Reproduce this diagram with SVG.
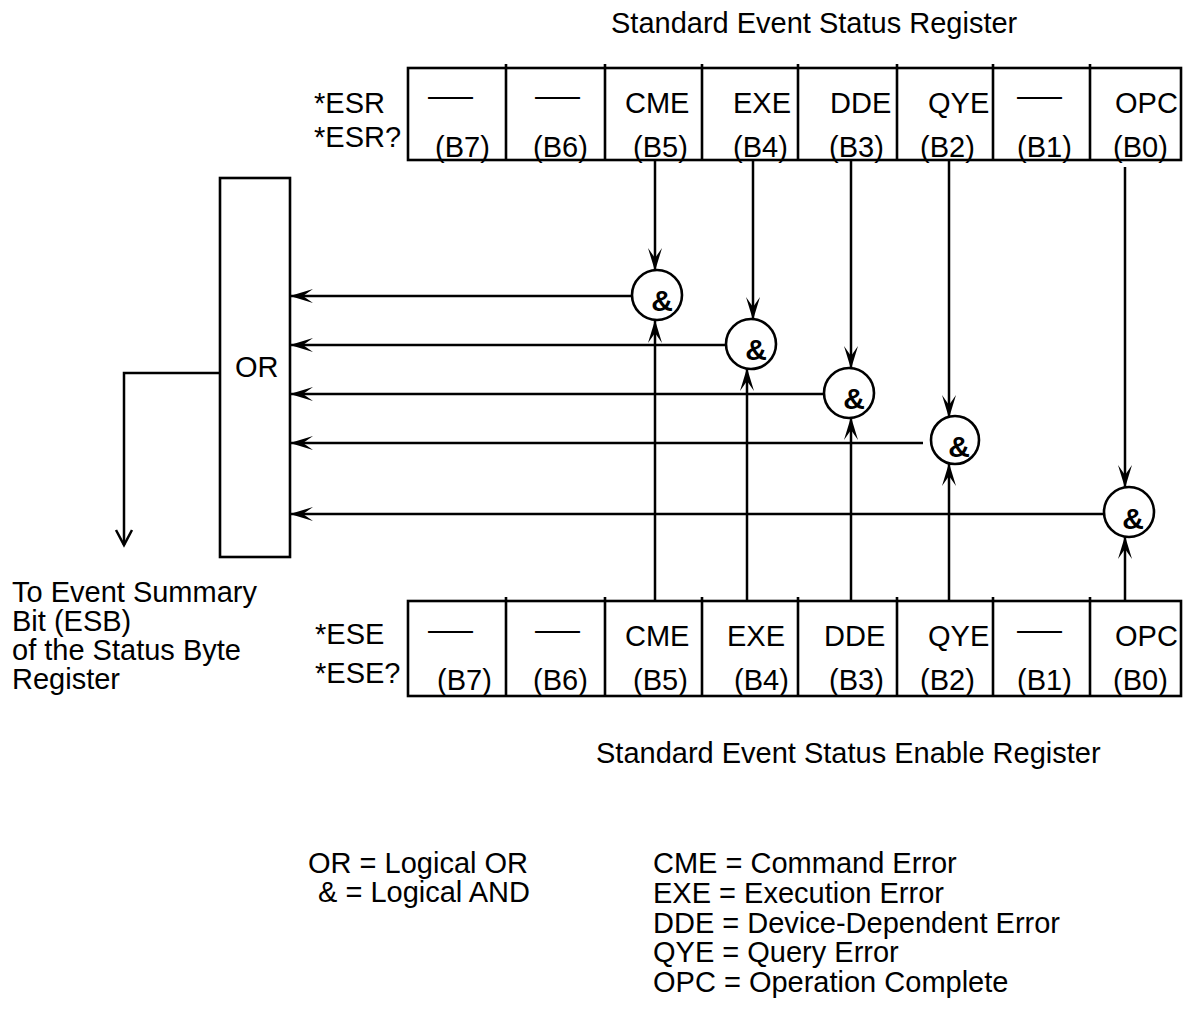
<svg xmlns="http://www.w3.org/2000/svg" width="1184" height="1013" viewBox="0 0 1184 1013">
<style>
  text { font-family: "Liberation Sans", Arial, sans-serif; font-size: 29px; fill: #000; }
  .amp { font-weight: bold; font-size: 30px; text-anchor: middle; }
  .box { fill: none; stroke: #000; stroke-width: 2.6; }
  .ln { fill: none; stroke: #000; stroke-width: 2.5; }
  .arr { marker-end: url(#ah); }
</style>
<defs>
  <marker id="ah" markerUnits="userSpaceOnUse" orient="auto" overflow="visible" markerWidth="24" markerHeight="16" refX="0" refY="0" viewBox="-24 -8 24 16">
    <path d="M1,0 L-22,-7 L-12,0 L-22,7 Z" fill="#000"/>
  </marker>
</defs>

<rect width="1184" height="1013" fill="#fff"/>

<text id="title-esr" x="611" y="33">Standard Event Status Register</text>

<g id="esr-register">
  <rect class="box" x="408" y="68" width="773" height="92"/>
  <path class="box" d="M506,64V160M605,64V160M702,64V160M798,64V160M897,64V160M993,64V160M1090,64V160"/>
  <text x="314" y="113">*ESR</text>
  <text x="314" y="147">*ESR?</text>
  <text x="428" y="106" textLength="45" lengthAdjust="spacingAndGlyphs">—</text>
  <text x="535" y="106" textLength="45" lengthAdjust="spacingAndGlyphs">—</text>
  <text x="625" y="113">CME</text>
  <text x="733" y="113">EXE</text>
  <text x="830" y="113">DDE</text>
  <text x="928" y="113">QYE</text>
  <text x="1017" y="106" textLength="45" lengthAdjust="spacingAndGlyphs">—</text>
  <text x="1115" y="113">OPC</text>
  <text x="435" y="157">(B7)</text>
  <text x="533" y="157">(B6)</text>
  <text x="633" y="157">(B5)</text>
  <text x="733" y="157">(B4)</text>
  <text x="829" y="157">(B3)</text>
  <text x="920" y="157">(B2)</text>
  <text x="1017" y="157">(B1)</text>
  <text x="1113" y="157">(B0)</text>
</g>

<g id="ese-register">
  <rect class="box" x="408" y="601" width="773" height="95"/>
  <path class="box" d="M506,597V696M605,597V696M702,597V696M798,597V696M897,597V696M993,597V696M1090,597V696"/>
  <text x="315" y="644">*ESE</text>
  <text x="315" y="683">*ESE?</text>
  <text x="428" y="640" textLength="45" lengthAdjust="spacingAndGlyphs">—</text>
  <text x="535" y="640" textLength="45" lengthAdjust="spacingAndGlyphs">—</text>
  <text x="625" y="646">CME</text>
  <text x="727" y="646">EXE</text>
  <text x="824" y="646">DDE</text>
  <text x="928" y="646">QYE</text>
  <text x="1017" y="640" textLength="45" lengthAdjust="spacingAndGlyphs">—</text>
  <text x="1115" y="646">OPC</text>
  <text x="437" y="690">(B7)</text>
  <text x="533" y="690">(B6)</text>
  <text x="633" y="690">(B5)</text>
  <text x="734" y="690">(B4)</text>
  <text x="829" y="690">(B3)</text>
  <text x="920" y="690">(B2)</text>
  <text x="1017" y="690">(B1)</text>
  <text x="1113" y="690">(B0)</text>
</g>

<text id="title-ese" x="596" y="763">Standard Event Status Enable Register</text>

<g id="or-gate">
  <rect class="box" x="220" y="178" width="70" height="379"/>
  <text x="235" y="377">OR</text>
</g>

<g id="and-cme">
  <circle class="box" cx="657" cy="295" r="25"/>
  <text class="amp" x="662" y="311">&amp;</text>
</g>
<g id="and-exe">
  <circle class="box" cx="751" cy="344" r="25"/>
  <text class="amp" x="756" y="360">&amp;</text>
</g>
<g id="and-dde">
  <circle class="box" cx="849" cy="393" r="25"/>
  <text class="amp" x="854" y="409">&amp;</text>
</g>
<g id="and-qye">
  <circle class="box" cx="955" cy="440" r="24"/>
  <text class="amp" x="959" y="457">&amp;</text>
</g>
<g id="and-opc">
  <circle class="box" cx="1129" cy="512" r="25"/>
  <text class="amp" x="1133" y="529">&amp;</text>
</g>

<g id="connectors">
  <path class="ln arr" d="M655,160V270"/>
  <path class="ln arr" d="M753,160V319"/>
  <path class="ln arr" d="M851,160V368"/>
  <path class="ln arr" d="M949,160V417"/>
  <path class="ln arr" d="M1125,167V487"/>
  <path class="ln arr" d="M655,601V321"/>
  <path class="ln arr" d="M747,601V369"/>
  <path class="ln arr" d="M851,601V418"/>
  <path class="ln arr" d="M949,601V464"/>
  <path class="ln arr" d="M1125,601V537"/>
  <path class="ln arr" d="M632,296H291"/>
  <path class="ln arr" d="M726,345H291"/>
  <path class="ln arr" d="M824,394H291"/>
  <path class="ln arr" d="M923,443H291"/>
  <path class="ln arr" d="M1104,514H291"/>
  <path class="ln" d="M220,373H124V545"/>
  <path class="ln" d="M116,530L124,545L132,530"/>
</g>

<g id="esb-label">
  <text x="12" y="602">To Event Summary</text>
  <text x="12" y="631">Bit (ESB)</text>
  <text x="12" y="660">of the Status Byte</text>
  <text x="12" y="689">Register</text>
</g>

<g id="legend">
  <text x="308" y="873">OR = Logical OR</text>
  <text x="318" y="902">&amp; = Logical AND</text>
  <text x="653" y="873">CME = Command Error</text>
  <text x="653" y="903">EXE = Execution Error</text>
  <text x="653" y="933">DDE = Device-Dependent Error</text>
  <text x="653" y="962">QYE = Query Error</text>
  <text x="653" y="992">OPC = Operation Complete</text>
</g>
</svg>
